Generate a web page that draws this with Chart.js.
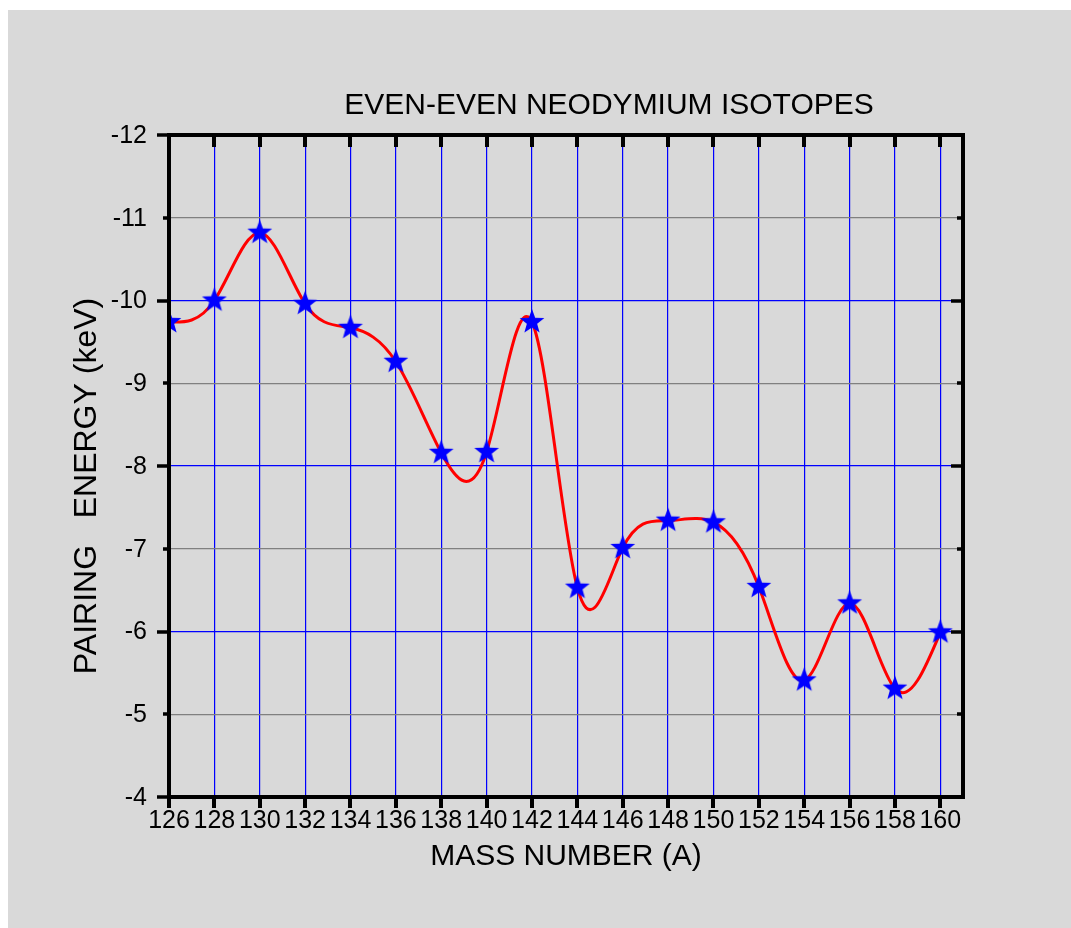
<!DOCTYPE html>
<html>
<head>
<meta charset="utf-8">
<title>Even-Even Neodymium Isotopes</title>
<script src="https://cdn.jsdelivr.net/npm/chart.js@4/dist/chart.umd.min.js"></script>
<style>
  html, body { margin: 0; padding: 0; background: #ffffff; }
  #wrap { width: 1071px; height: 928px; }
</style>
</head>
<body>
<div id="wrap"><canvas id="chart" width="1071" height="928"></canvas></div>
<script>
// Mass numbers of the even-even Nd isotopes and their pairing energies (keV)
const massNumbers = [126, 128, 130, 132, 134, 136, 138, 140, 142, 144, 146, 148, 150, 152, 154, 156, 158, 160];
const pairingEnergy = [-9.74, -10.00, -10.82, -9.96, -9.67, -9.26, -8.16, -8.17, -9.74, -6.53, -7.01, -7.34, -7.32, -6.54, -5.41, -6.34, -5.31, -5.99];

// Axis tick values
const xTickValues = [126, 128, 130, 132, 134, 136, 138, 140, 142, 144, 146, 148, 150, 152, 154, 156, 158, 160];
const yTickValues = [-12, -11, -10, -9, -8, -7, -6, -5, -4];

const chartTitle = 'EVEN-EVEN NEODYMIUM ISOTOPES';
const xAxisTitle = 'MASS NUMBER (A)';
const yAxisTitle = 'PAIRING   ENERGY (keV)';

const FONT = '"Liberation Sans", Arial, Helvetica, sans-serif';

// Filled five-pointed star used as the point marker
function makeStar(outer, inner, color) {
  const size = Math.ceil(outer * 2 + 2);
  const c = document.createElement('canvas');
  c.width = size; c.height = size;
  const g = c.getContext('2d');
  const cx = size / 2, cy = size / 2;
  g.beginPath();
  for (let i = 0; i < 10; i++) {
    const r = i % 2 === 0 ? outer : inner;
    const a = -Math.PI / 2 + i * Math.PI / 5;
    const px = cx + r * Math.cos(a), py = cy + r * Math.sin(a);
    if (i === 0) g.moveTo(px, py); else g.lineTo(px, py);
  }
  g.closePath();
  g.fillStyle = color;
  g.fill();
  return c;
}
const starMarker = makeStar(13, 5.4, '#0000ff');

// Gray page panel behind the chart
const panelBackground = {
  id: 'panelBackground',
  beforeDraw(chart) {
    const ctx = chart.ctx;
    ctx.save();
    ctx.fillStyle = '#d9d9d9';
    ctx.fillRect(8, 10, chart.width - 8, chart.height - 10);
    ctx.restore();
  }
};

// Natural cubic spline through the data, fed to the line element as Bezier control points
const naturalSpline = {
  id: 'naturalSpline',
  beforeDatasetsDraw(chart) {
    const meta = chart.getDatasetMeta(0);
    const line = meta.dataset;
    const pts = meta.data;
    const xs = chart.scales.x, ys = chart.scales.y;
    line.updateControlPoints(chart.chartArea, 'x');
    const n = massNumbers.length;
    const X = massNumbers, Y = pairingEnergy;
    const h = [];
    for (let i = 0; i < n - 1; i++) h.push(X[i + 1] - X[i]);
    // solve for second derivatives (natural end conditions)
    const a = new Array(n).fill(0), b = new Array(n).fill(1), c = new Array(n).fill(0), d = new Array(n).fill(0);
    for (let i = 1; i < n - 1; i++) {
      a[i] = h[i - 1];
      b[i] = 2 * (h[i - 1] + h[i]);
      c[i] = h[i];
      d[i] = 6 * ((Y[i + 1] - Y[i]) / h[i] - (Y[i] - Y[i - 1]) / h[i - 1]);
    }
    for (let i = 1; i < n; i++) {
      const w = a[i] / b[i - 1];
      b[i] -= w * c[i - 1];
      d[i] -= w * d[i - 1];
    }
    const M = new Array(n).fill(0);
    M[n - 1] = d[n - 1] / b[n - 1];
    for (let i = n - 2; i >= 0; i--) M[i] = (d[i] - c[i] * M[i + 1]) / b[i];
    const slope = [];
    for (let i = 0; i < n - 1; i++) {
      slope.push((Y[i + 1] - Y[i]) / h[i] - h[i] * (2 * M[i] + M[i + 1]) / 6);
    }
    slope.push((Y[n - 1] - Y[n - 2]) / h[n - 2] + h[n - 2] * (M[n - 2] + 2 * M[n - 1]) / 6);
    for (let i = 0; i < n; i++) {
      const hb = i > 0 ? h[i - 1] / 3 : 0;
      const ha = i < n - 1 ? h[i] / 3 : 0;
      pts[i].cp1x = xs.getPixelForValue(X[i] - hb);
      pts[i].cp1y = ys.getPixelForValue(Y[i] - slope[i] * hb);
      pts[i].cp2x = xs.getPixelForValue(X[i] + ha);
      pts[i].cp2y = ys.getPixelForValue(Y[i] + slope[i] * ha);
    }
    line._path = undefined;
  }
};

// Frame, tick marks, tick labels and titles
const frameAndLabels = {
  id: 'frameAndLabels',
  afterDraw(chart) {
    const ctx = chart.ctx;
    const area = chart.chartArea;
    const xs = chart.scales.x, ys = chart.scales.y;
    ctx.save();
    ctx.strokeStyle = '#000000';
    ctx.lineCap = 'butt';

    // x tick marks: inward on top, outward on bottom
    ctx.lineWidth = 4;
    xTickValues.forEach(v => {
      const px = Math.round(xs.getPixelForValue(v));
      ctx.beginPath();
      ctx.moveTo(px, area.top); ctx.lineTo(px, area.top + 12);
      ctx.moveTo(px, area.bottom); ctx.lineTo(px, area.bottom + 11);
      ctx.stroke();
    });
    // y tick marks: outward on left, inward on right; even values are major
    ctx.lineWidth = 3.5;
    yTickValues.forEach(v => {
      const py = Math.round(ys.getPixelForValue(v));
      const len = (v % 2 === 0) ? 12 : 6;
      ctx.beginPath();
      ctx.moveTo(area.left - len, py); ctx.lineTo(area.left, py);
      ctx.moveTo(area.right - len, py); ctx.lineTo(area.right, py);
      ctx.stroke();
    });
    // heavy frame
    ctx.lineWidth = 4;
    ctx.strokeRect(area.left, area.top, area.right - area.left, area.bottom - area.top);

    ctx.fillStyle = '#000000';
    // y tick labels
    ctx.font = '25px ' + FONT;
    ctx.textAlign = 'right';
    ctx.textBaseline = 'middle';
    yTickValues.forEach(v => {
      ctx.fillText(String(v), 147, ys.getPixelForValue(v) + 1);
    });
    // x tick labels
    ctx.textAlign = 'center';
    xTickValues.forEach(v => {
      ctx.fillText(String(v), xs.getPixelForValue(v), 821);
    });
    // chart title
    ctx.font = '30px ' + FONT;
    ctx.fillText(chartTitle, 609, 106);
    // x axis title
    ctx.font = '30px ' + FONT;
    ctx.fillText(xAxisTitle, 566, 857);
    // y axis title (rotated)
    ctx.font = '32px ' + FONT;
    ctx.translate(87, 486);
    ctx.rotate(-Math.PI / 2);
    ctx.fillText(yAxisTitle, 0, 0);
    ctx.restore();
  }
};

new Chart(document.getElementById('chart'), {
  type: 'line',
  data: {
    datasets: [{
      data: massNumbers.map((m, i) => ({ x: m, y: pairingEnergy[i] })),
      borderColor: '#ff0000',
      borderWidth: 3,
      tension: 0.4,
      fill: false,
      pointStyle: starMarker,
      pointRadius: 13,
      pointHoverRadius: 13
    }]
  },
  options: {
    responsive: false,
    animation: false,
    events: [],
    layout: { padding: { left: 169, top: 135, right: 108, bottom: 131 } },
    plugins: {
      legend: { display: false },
      title: { display: false },
      tooltip: { enabled: false }
    },
    scales: {
      x: {
        type: 'linear',
        min: 126,
        max: 161,
        afterBuildTicks: s => { s.ticks = xTickValues.map(v => ({ value: v })); },
        ticks: { display: false },
        grid: { color: '#0000ff', lineWidth: 1.2, drawTicks: false },
        border: { display: false }
      },
      y: {
        type: 'linear',
        min: -12,
        max: -4,
        reverse: true,
        afterBuildTicks: s => { s.ticks = yTickValues.map(v => ({ value: v })); },
        ticks: { display: false },
        grid: {
          color: ctx => (ctx.tick && ctx.tick.value % 2 === 0) ? '#0000ff' : '#808080',
          lineWidth: 1.2,
          drawTicks: false
        },
        border: { display: false }
      }
    }
  },
  plugins: [panelBackground, naturalSpline, frameAndLabels]
});
</script>
</body>
</html>
